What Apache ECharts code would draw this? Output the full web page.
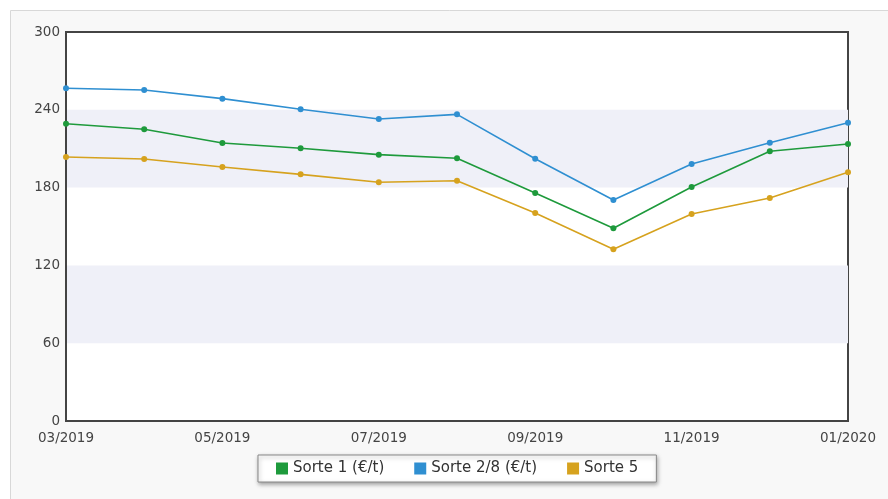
<!DOCTYPE html>
<html><head><meta charset="utf-8">
<script src="https://cdn.jsdelivr.net/npm/echarts@6/dist/echarts.min.js"></script>
<style>html,body{margin:0;padding:0;background:#fff}#c{width:888px;height:499px}</style>
</head><body><div id="c"></div>
<script>
var categories = ['03/2019','04/2019','05/2019','06/2019','07/2019','08/2019','09/2019','10/2019','11/2019','12/2019','01/2020'];
var sorte1 = [229.3, 225, 214.4, 210.3, 205.4, 202.6, 175.8, 148.6, 180.5, 208, 213.6];
var sorte28 = [256.6, 255.3, 248.6, 240.4, 232.9, 236.5, 202.3, 170.4, 198.2, 214.6, 230];
var sorte5 = [203.6, 202, 195.9, 190.2, 184.1, 185.3, 160.4, 132.4, 159.6, 172, 191.8];
var seriesNames = ['Sorte 1 (€/t)', 'Sorte 2/8 (€/t)', 'Sorte 5'];
var colors = ['#1e9a3c', '#2f8fd1', '#d6a21e'];

var chart = echarts.init(document.getElementById('c'), null, {renderer:'canvas'});
function mk(name, data, color){
  return {name:name, type:'line', data:data, symbol:'circle', symbolSize:6,
    lineStyle:{color:color, width:1.6}, itemStyle:{color:color}, emphasis:{disabled:true}};
}
chart.setOption({
  animation:false,
  backgroundColor:'#ffffff',
  textStyle:{fontFamily:'DejaVu Sans'},
  graphic:[{type:'rect', z:-10, shape:{x:10.5,y:10.5,width:900,height:520},
    style:{fill:'#f8f8f8', stroke:'#d8d8d8', lineWidth:1}}],
  grid:{left:66, right:40, top:32, bottom:78, show:true, backgroundColor:'#ffffff', borderColor:'#444', borderWidth:2},
  legend:{top:455, left:258, itemWidth:12, itemHeight:12, itemGap:30, icon:'rect',
    backgroundColor:'#ffffff', borderColor:'#888', borderWidth:1, padding:[6,18,6,18],
    shadowColor:'rgba(0,0,0,0.35)', shadowBlur:4, shadowOffsetX:1, shadowOffsetY:2,
    textStyle:{fontSize:15, color:'#333', fontFamily:'DejaVu Sans'},
    data:seriesNames.map(function(n,i){return {name:n, itemStyle:{color:colors[i]}};})},
  xAxis:{type:'category', data:categories, boundaryGap:false,
    axisLine:{lineStyle:{color:'#444', width:2}}, axisTick:{show:false},
    axisLabel:{interval:1, color:'#444', fontSize:13.5, margin:10, fontFamily:'DejaVu Sans'},
    splitLine:{show:false}},
  yAxis:{type:'value', min:0, max:300, interval:60,
    axisLine:{show:true, lineStyle:{color:'#444', width:2}}, axisTick:{show:false},
    axisLabel:{color:'#444', fontSize:13.5, margin:6, fontFamily:'DejaVu Sans'},
    splitLine:{show:false},
    splitArea:{show:true, areaStyle:{color:['rgba(255,255,255,0)','#eff0f8']}}},
  series:[mk(seriesNames[0], sorte1, colors[0]), mk(seriesNames[1], sorte28, colors[1]), mk(seriesNames[2], sorte5, colors[2])]
});
</script></body></html>
